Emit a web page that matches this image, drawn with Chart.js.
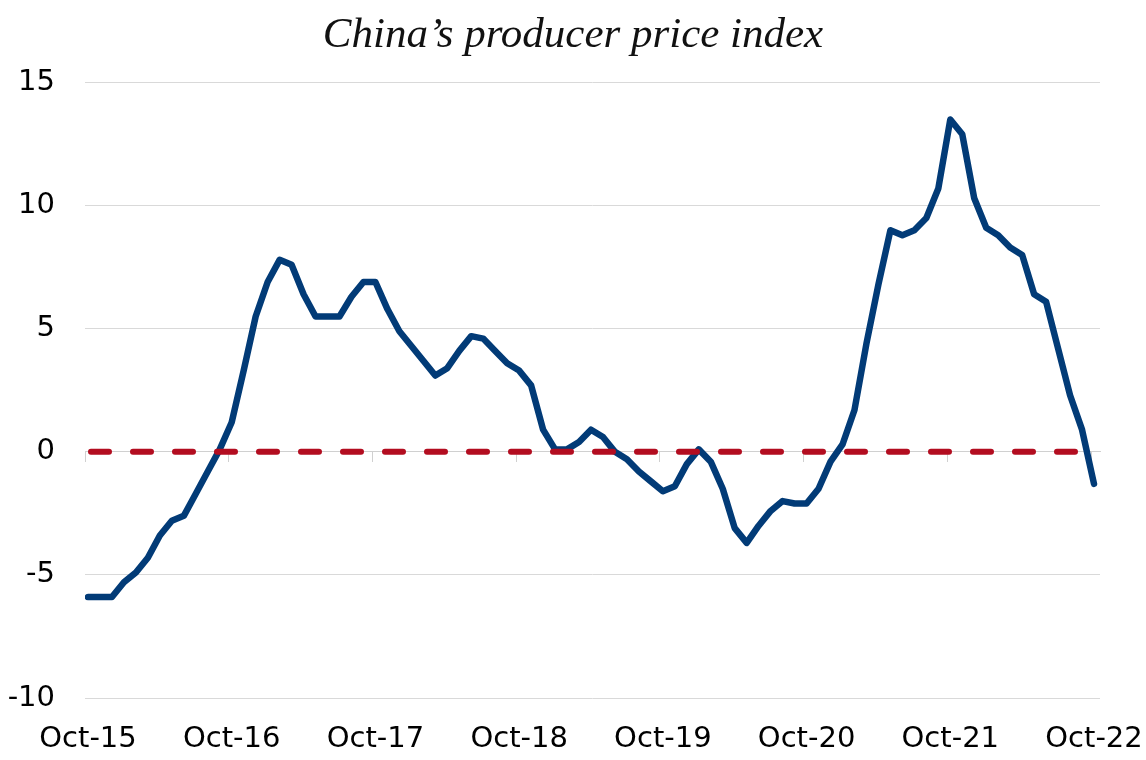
<!DOCTYPE html>
<html lang="en">
<head>
  <meta charset="UTF-8" />
  <title>China's producer price index</title>
  <style>
    body {
      margin: 0;
      background: #ffffff;
    }
    canvas {
      display: block;
    }
  </style>
</head>
<body>
  <canvas id="ppiChart" width="1146" height="760"></canvas>

  <script src="https://cdn.jsdelivr.net/npm/chart.js"></script>
  <script>
    // PPI year on year, %, monthly Oct-15 .. Oct-22
    const ppi = [
      -5.9, -5.9, -5.9,
      -5.3, -4.9, -4.3, -3.4, -2.8, -2.6, -1.7, -0.8, 0.1, 1.2, 3.3, 5.5,
      6.9, 7.8, 7.6, 6.4, 5.5, 5.5, 5.5, 6.3, 6.9, 6.9, 5.8, 4.9,
      4.3, 3.7, 3.1, 3.4, 4.1, 4.7, 4.6, 4.1, 3.6, 3.3, 2.7, 0.9,
      0.1, 0.1, 0.4, 0.9, 0.6, 0.0, -0.3, -0.8, -1.2, -1.6, -1.4, -0.5,
      0.1, -0.4, -1.5, -3.1, -3.7, -3.0, -2.4, -2.0, -2.1, -2.1, -1.5, -0.4,
      0.3, 1.7, 4.4, 6.8, 9.0, 8.8, 9.0, 9.5, 10.7, 13.5, 12.9, 10.3,
      9.1, 8.8, 8.3, 8.0, 6.4, 6.1, 4.2, 2.3, 0.9, -1.3
    ];
    const zeroLine = [0, 0]; // first and last month
    const tickLabels = ["Oct-15", "Oct-16", "Oct-17", "Oct-18", "Oct-19", "Oct-20", "Oct-21", "Oct-22"];
    const yTicks = [-10, -5, 0, 5, 10, 15];

    const lastIdx = ppi.length - 1;
    const tickIdx = tickLabels.map((_, i) => i * 12);

    const tickFont = { family: "'DejaVu Sans', sans-serif", size: 29 };

    new Chart(document.getElementById("ppiChart"), {
      type: "line",
      data: {
        datasets: [
          {
            label: "zero",
            data: zeroLine.map((v, i) => ({ x: i * lastIdx, y: v })),
            borderColor: "#b30d20",
            borderWidth: 6,
            borderDash: [18, 24],
            borderDashOffset: -3,
            borderCapStyle: "round",
            pointRadius: 0,
            order: 0
          },
          {
            label: "PPI",
            data: ppi.map((v, i) => ({ x: i, y: v })),
            borderColor: "#023b77",
            borderWidth: 6.5,
            borderCapStyle: "round",
            borderJoinStyle: "round",
            pointRadius: 0,
            tension: 0,
            order: 1
          }
        ]
      },
      options: {
        responsive: false,
        devicePixelRatio: 1,
        animation: false,
        layout: { padding: 0 },
        plugins: {
          legend: { display: false },
          tooltip: { enabled: false },
          title: {
            display: true,
            text: "China\u2019s producer price index",
            color: "#111",
            font: { family: "'Liberation Serif', serif", style: "italic", weight: "normal", size: 43 },
            padding: { top: 10, bottom: 21 }
          }
        },
        scales: {
          x: {
            type: "linear",
            min: -0.25,
            max: lastIdx + 0.5,
            grid: { display: false, drawTicks: false },
            border: { display: false },
            afterBuildTicks: axis => { axis.ticks = tickIdx.map(v => ({ value: v })); },
            afterFit: axis => {
              axis.height = 62;
              axis.paddingLeft = 0;
              axis.paddingRight = 46;
            },
            ticks: {
              autoSkip: false,
              maxRotation: 0,
              color: "#000",
              font: tickFont,
              padding: 24,
              callback: v => tickLabels[tickIdx.indexOf(v)]
            }
          },
          xZero: {
            type: "linear",
            axis: "x",
            position: { y: 0 },
            min: -0.25,
            max: lastIdx + 0.5,
            grid: { drawOnChartArea: false, drawTicks: true, tickLength: 10, color: "#d0d0d0" },
            border: { display: true, color: "#d0d0d0", width: 1 },
            afterBuildTicks: axis => { axis.ticks = tickIdx.map(v => ({ value: v - 0.25 })); },
            ticks: { display: false }
          },
          y: {
            min: yTicks[0],
            max: yTicks[yTicks.length - 1],
            afterBuildTicks: axis => { axis.ticks = yTicks.map(v => ({ value: v })); },
            afterFit: axis => { axis.width = 85; },
            grid: { color: "#d9d9d9", lineWidth: 1, drawTicks: false },
            border: { display: false },
            ticks: { color: "#000", font: tickFont, padding: 30 }
          }
        }
      }
    });
  </script>
</body>
</html>
